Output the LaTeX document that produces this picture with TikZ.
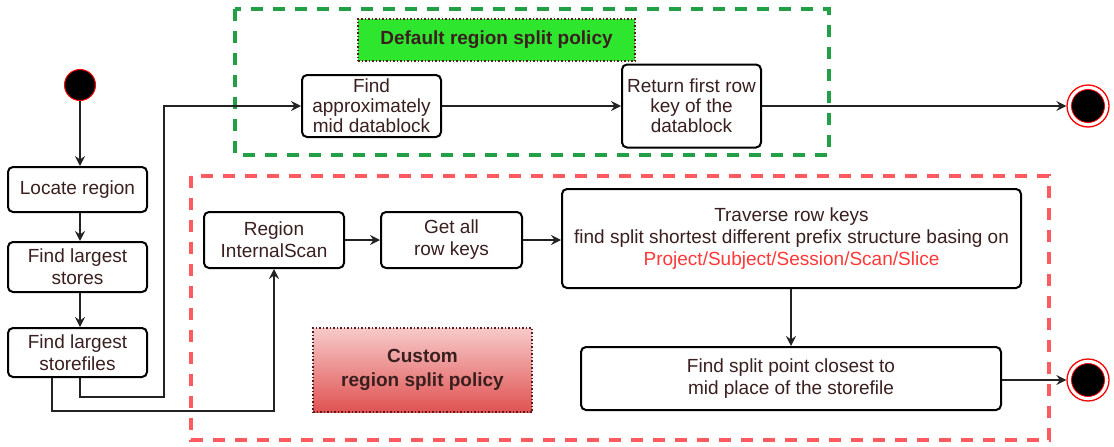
\documentclass[tikz,border=0pt]{standalone}
\usepackage{fontspec}
\setmainfont{Liberation Sans}
\usetikzlibrary{arrows.meta,calc}
\definecolor{txt}{HTML}{3A1F1F}
\definecolor{conncol}{HTML}{222222}
\definecolor{gdash}{HTML}{22A045}
\definecolor{rdash}{HTML}{FF5A60}
\definecolor{glab}{HTML}{2EE62E}
\definecolor{dotb}{HTML}{5A1A1A}
\definecolor{redtxt}{HTML}{FF3838}
\definecolor{ctop}{HTML}{F7CACA}
\definecolor{cbot}{HTML}{E05252}
\begin{document}
\begin{tikzpicture}[x=1pt,y=-1pt,
  every node/.style={font=\fontsize{19}{22}\selectfont, text=txt, align=center, inner sep=0pt},
  actbox/.style={draw=black, line width=2pt, rounded corners=5pt, fill=white},
  tight/.style={font=\fontsize{19}{20}\selectfont},
  conn/.style={draw=conncol, line width=1.4pt, -{Stealth[length=10pt,width=10pt,inset=3.5pt]}},
  startdot/.style={circle, fill=black, draw=red, line width=1pt, minimum size=31pt},
  endring/.style={circle, draw=red, line width=1.3pt, fill=white, minimum size=42pt},
  enddot/.style={circle, fill=black, draw=red, line width=0.8pt, minimum size=33pt},
  gframe/.style={draw=gdash, line width=3.8pt, dash pattern=on 12pt off 10pt},
  rframe/.style={draw=rdash, line width=3.5pt, dash pattern=on 12pt off 10pt},
  lab/.style={draw=dotb, line width=1.5pt, dotted, font=\fontsize{19}{24}\selectfont\bfseries}
]
\useasboundingbox (0,0) rectangle (1114,447);

% frames
\draw[gframe] (235,9) rectangle (829,155);
\draw[rframe] (191,176) rectangle (1049,440);

% labels
\node[lab, fill=glab, minimum width=277pt, minimum height=42pt] (glabel) at (496.5,40) {Default region split policy};
\node[lab, top color=ctop, bottom color=cbot, minimum width=219pt, minimum height=84pt] (clabel) at (422.5,370) {Custom\\region split policy};

% left column
\node[startdot] (start) at (80,85) {};
\node[actbox, minimum width=139pt, minimum height=45pt] (loc) at (77.5,189.5) {Locate region};
\node[actbox, minimum width=139pt, minimum height=50pt] (stores) at (77.5,267) {Find largest\\stores};
\node[actbox, minimum width=139pt, minimum height=49pt] (files) at (77.5,352.5) {Find largest\\storefiles};

% default policy
\node[actbox, tight, minimum width=139pt, minimum height=62pt] (mid) at (371.5,106) {Find\\approximately\\mid datablock};
\node[actbox, tight, minimum width=139pt, minimum height=83pt] (ret) at (691.5,106) {Return first row\\key of the\\datablock};
\node[endring] (endA) at (1088,106) {};
\node[enddot] (endAin) at (endA) {};

% custom policy
\node[actbox, minimum width=140pt, minimum height=56pt] (scan) at (274,240) {Region\\InternalScan};
\node[actbox, minimum width=141pt, minimum height=56pt] (keys) at (451.5,240) {Get all\\row keys};
\node[actbox, minimum width=459pt, minimum height=99pt] (trav) at (791.5,238.5) {Traverse row keys\\find split shortest different prefix structure basing on\\\textcolor{redtxt}{Project/Subject/Session/Scan/Slice}};
\node[actbox, minimum width=420pt, minimum height=63pt] (split) at (791,378.5) {Find split point closest to\\mid place of the storefile};
\node[endring] (endB) at (1088,380) {};
\node[enddot] (endBin) at (endB) {};

% connectors
\draw[conn] (start) -- (start |- loc.north);
\draw[conn] (loc.south -| start) -- (stores.north -| start);
\draw[conn] (stores.south -| start) -- (files.north -| start);

\coordinate (c1) at (164,397);
\coordinate (c2) at (52,411);
\draw[conn] (files.south -| start) |- (c1) |- (mid.west);
\draw[conn] (files.south -| c2) -- (c2) -| (scan.south);

\draw[conn] (mid) -- (ret);
\draw[conn] (ret) -- (endA);
\draw[conn] (scan) -- (keys);
\draw[conn] (keys.east) -- (keys.east -| trav.west);
\draw[conn] (trav.south -| split.north) -- (split.north);
\draw[conn] (split.east |- endB) -- (endB);
\end{tikzpicture}
\end{document}
